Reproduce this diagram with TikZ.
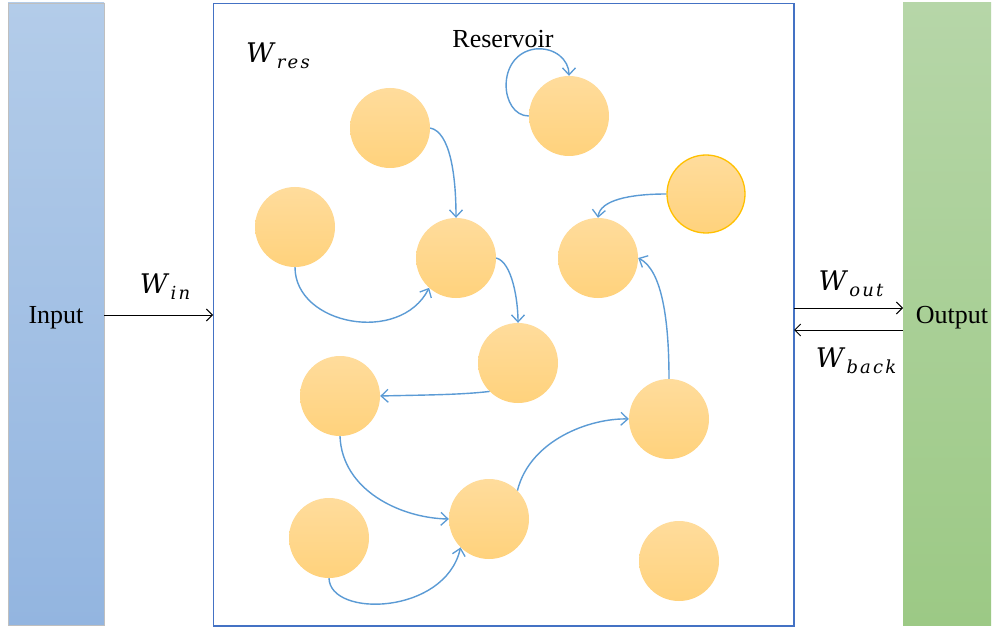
\documentclass[tikz,border=0pt]{standalone}
\usepackage{fontspec}
\setmainfont{Liberation Serif}
\newfontfamily\wfont{DejaVu Serif}
\newfontfamily\subfont[LetterSpace=12]{DejaVu Serif}
\usetikzlibrary{arrows.meta}
\definecolor{inTop}{HTML}{B3CCE9}
\definecolor{inBot}{HTML}{93B5E0}
\definecolor{outTop}{HTML}{B6D6A8}
\definecolor{outBot}{HTML}{9CC985}
\definecolor{nodeTop}{HTML}{FFDC9C}
\definecolor{nodeBot}{HTML}{FFD27C}
\definecolor{edgeBlue}{HTML}{5B9BD5}
\definecolor{boxBlue}{HTML}{4472C4}
\definecolor{ringGold}{HTML}{FFC000}
\newcommand{\wlabel}[1]{{\wfont\itshape\fontsize{27}{32}\selectfont W}\kern3pt\raisebox{-6pt}{\subfont\itshape\fontsize{18}{21}\selectfont #1}}
\tikzset{
  neuron/.style={circle, minimum size=80pt, inner sep=0pt, top color=nodeTop, bottom color=nodeBot, draw=none},
  link/.style={draw=edgeBlue, line width=1.4pt, -{Straight Barb[length=7pt,width=13pt,line width=1.3pt]}},
  wire/.style={draw=black, line width=1pt, -{Straight Barb[length=6pt,width=12pt,line width=1pt]}},
  lbl/.style={font=\fontsize{26}{30}\selectfont, inner sep=0pt},
  wlbl/.style={inner sep=0pt}
}
\begin{document}
\begin{tikzpicture}[x=1pt,y=-1pt]
\useasboundingbox (0,0) rectangle (992,628);
\fill[white] (0,0) rectangle (992,628);
% side bars
\node[draw=black!25, line width=0.6pt, top color=inTop, bottom color=inBot, minimum width=96pt, minimum height=622pt, inner sep=0pt] (inbar) at (56,314) {};
\node[draw=none, top color=outTop, bottom color=outBot, minimum width=88pt, minimum height=622pt, inner sep=0pt] (outbar) at (947,314) {};
\node[lbl] (inlabel) at (56,318) {Input};
\node[lbl] (outlabel) at (952,318) {Output};
% reservoir box
\node[draw=boxBlue, line width=1.3pt, minimum width=580.5pt, minimum height=622.5pt, inner sep=0pt] (res) at (503.75,314.75) {};
\node[lbl] (reslabel) at (503,39) {Reservoir};
\node[wlbl] (wres) at (278,56) {\wlabel{res}};
% neurons
\node[neuron] (n1) at (390,128) {};
\node[neuron] (n2) at (569,116) {};
\node[neuron] (n3) at (295,227) {};
\node[neuron] (n4) at (456,258) {};
\node[neuron] (n5) at (598,258) {};
\node[neuron, draw=ringGold, line width=1.3pt, minimum size=78pt] (n6) at (706,194) {};
\node[neuron] (n7) at (518,363) {};
\node[neuron] (n8) at (340,396) {};
\node[neuron] (n9) at (669,419) {};
\node[neuron] (n10) at (489,519) {};
\node[neuron] (n11) at (329,538) {};
\node[neuron] (n12) at (679,561) {};
% coordinates for the reservoir wires
\coordinate (inR) at (213,315);
\coordinate (inL) at (104,315);
\coordinate (outA) at (794,308);
\coordinate (outB) at (903,308);
\coordinate (backA) at (903,330);
\coordinate (backB) at (794,330);
\draw[wire] (inL) -- (inR);
\draw[wire] (outA) -- (outB);
\draw[wire] (backA) -- (backB);
\node[wlbl] (win) at (165,287) {\wlabel{in}};
\node[wlbl] (wout) at (851,284) {\wlabel{out}};
\node[wlbl] (wback) at (856,361) {\wlabel{back}};
% edges
\draw[link] (n1.east) .. controls (450,132) and (456,175) .. (n4.north);
\draw[link] (n3.south) .. controls (295,325) and (400,345) .. (n4.228);
\draw[link] (n4.east) .. controls (512,262) and (518,300) .. (n7.north);
\draw[link] (n7.225) .. controls (460,395) and (420,395) .. (n8.east);
\draw[link] (n8.south) .. controls (342,490) and (400,518) .. (n10.west);
\draw[link] (n11.south) .. controls (330,618) and (445,615) .. (n10.225);
\draw[link] (n10.45) .. controls (530,440) and (590,418) .. (n9.west);
\draw[link] (n9.north) .. controls (669,320) and (662,270) .. (n5.east);
\draw[link] (n6.west) .. controls (630,194) and (600,200) .. (n5.north);
\draw[draw=edgeBlue, line width=1.4pt] (n2.west) .. controls (500,116) and (495,55) .. (535,49);
\coordinate (loopTop) at (535,49);
\draw[link] (loopTop) .. controls (555,47) and (569,60) .. (n2.north);
\end{tikzpicture}
\end{document}
